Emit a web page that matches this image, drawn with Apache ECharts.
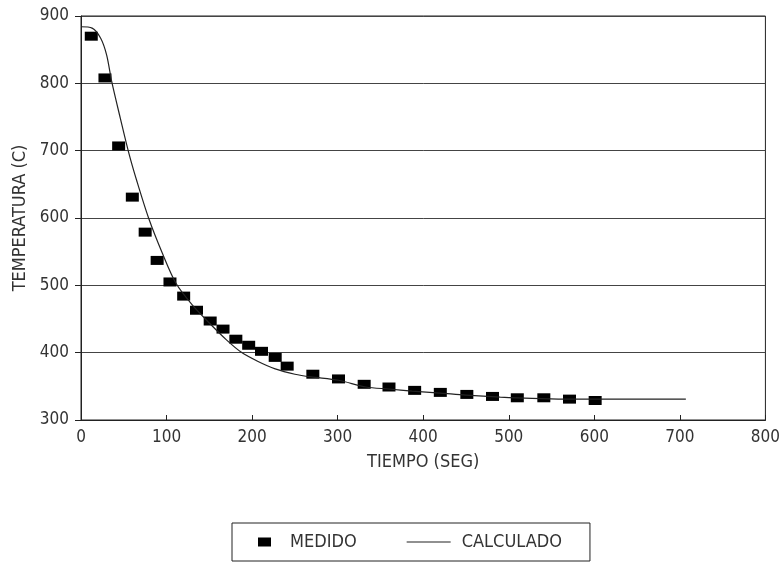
<html>
<head>
    <meta charset="utf-8">
    <script src="https://cdn.jsdelivr.net/npm/echarts@6/dist/echarts.min.js"></script>
</head>
<body style="margin:0">
    <div id="main" style="width:783px; height:566px"></div>
</body>
<script type="text/javascript">
    // medido (puntos) - tiempo en seg, temperatura en C
    var medidoT = [12, 28, 44, 60, 75, 89, 104, 120, 135, 151, 166, 181, 196, 211, 227, 241, 271, 301, 331, 360, 390, 420, 451, 481, 510, 541, 571, 601];
    var medidoTemp = [870, 808, 707, 631, 579, 537, 505, 484, 463, 447, 435, 420, 411, 402, 393, 380, 368, 361, 353, 349, 344, 341, 338, 335, 333, 333, 331, 329];
    // calculado (curva)
    var calcT = [0, 13, 23, 30, 36, 46, 56, 65, 79, 95, 111, 130, 150, 170, 187, 207, 227, 250, 269, 301, 333, 360, 387, 420, 450, 490, 527, 565, 605, 650, 707];
    var calcTemp = [884, 882, 867, 842, 802, 748, 696, 656, 600, 548, 503, 471, 444, 419, 401, 387, 376, 368, 364, 359, 349, 346, 343, 340, 337, 334, 332, 331, 331, 331, 331];
    var xTicks = [0, 800, 100];
    var yTicks = [300, 900, 100];

    var fnt = 'DejaVu Sans Condensed';
    var ink = '#333';

    var myChart = echarts.init(document.getElementById('main'));

    var option = {
        animation: false,
        backgroundColor: '#fff',
        textStyle: { fontFamily: fnt, color: ink },
        grid: { left: 81, right: 16, top: 16, bottom: 146, show: true, borderColor: '#222', borderWidth: 1 },
        xAxis: {
            type: 'value',
            min: xTicks[0], max: xTicks[1], interval: xTicks[2],
            name: 'TIEMPO (SEG)', nameLocation: 'middle', nameGap: 33,
            nameTextStyle: { fontFamily: fnt, fontSize: 18, color: ink },
            axisLine: { lineStyle: { color: '#222' } },
            axisTick: { inside: true, length: 5, lineStyle: { color: '#222' } },
            axisLabel: { fontFamily: fnt, fontSize: 17, color: ink, margin: 9 },
            splitLine: { show: false }
        },
        yAxis: {
            type: 'value',
            min: yTicks[0], max: yTicks[1], interval: yTicks[2],
            name: 'TEMPERATURA (C)', nameLocation: 'middle', nameGap: 48,
            nameTextStyle: { fontFamily: fnt, fontSize: 18, color: ink },
            axisLine: { lineStyle: { color: '#222' } },
            axisTick: { inside: false, length: 6, lineStyle: { color: '#222' } },
            axisLabel: { fontFamily: fnt, fontSize: 17, color: ink, margin: 12 },
            splitLine: { lineStyle: { color: '#444', width: 1 } }
        },
        legend: {
            left: 232, top: 523,
            padding: [10, 28, 10, 11],
            borderColor: '#222', borderWidth: 1,
            itemWidth: 44, itemHeight: 9, itemGap: 50,
            textStyle: { fontFamily: fnt, fontSize: 18, color: ink, padding: [0, 0, 0, 6] },
            data: [
                { name: 'MEDIDO', icon: 'path://M0,4L0,5M15,0H28V9H15Z' },
                { name: 'CALCULADO', icon: 'path://M0,0H44V1.2H0Z' }
            ]
        },
        series: [
            {
                name: 'MEDIDO',
                type: 'scatter',
                symbol: 'rect',
                symbolSize: [13, 9],
                itemStyle: { color: '#000', opacity: 1 },
                data: medidoT.map(function (t, i) { return [t, medidoTemp[i]]; })
            },
            {
                name: 'CALCULADO',
                type: 'line',
                smooth: 0.3,
                showSymbol: false,
                symbol: 'none',
                lineStyle: { color: '#222', width: 1.2 },
                itemStyle: { color: '#222' },
                data: calcT.map(function (t, i) { return [t, calcTemp[i]]; })
            }
        ]
    };

    myChart.setOption(option);
</script>
</html>
